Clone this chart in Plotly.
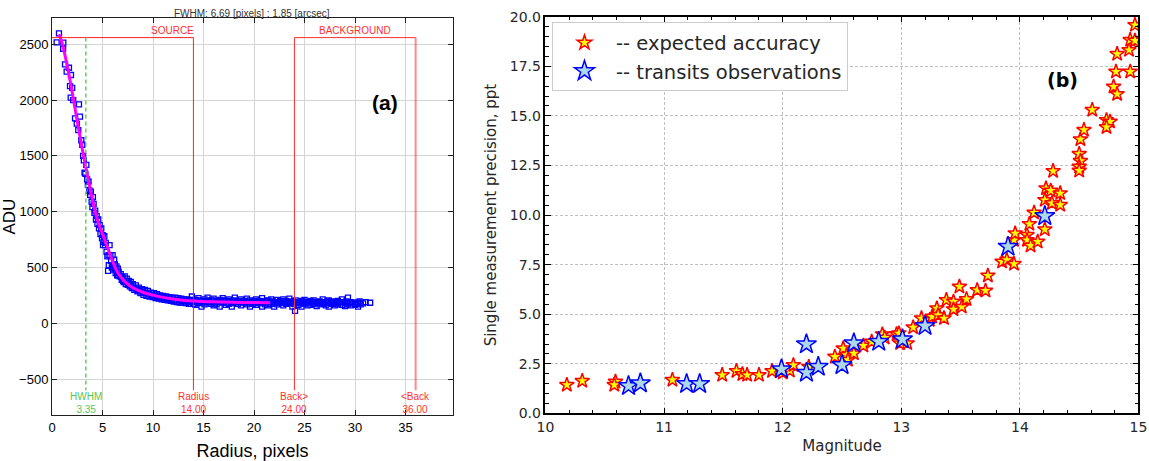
import plotly.graph_objects as go

# ---------------- Panel (a): radial profile ----------------
profile_points = [
    (0.46, 2518), (0.69, 2598), (1.10, 2460), (1.12, 2515), (1.29, 2320), (1.45, 2255),
    (1.68, 2290), (1.78, 2126), (1.85, 2022), (1.88, 2225), (2.00, 2110), (2.10, 2000),
    (2.28, 1837), (2.45, 1790), (2.60, 1730), (2.67, 1962), (2.77, 1851), (2.90, 1640),
    (3.00, 1600), (3.08, 1500), (3.15, 1460), (3.22, 1350), (3.30, 1340), (3.40, 1420),
    (3.48, 1290), (3.55, 1240), (3.62, 1270), (3.70, 1190), (3.78, 1150), (3.85, 1180),
    (3.92, 1090), (4.00, 1040), (4.05, 1130), (4.12, 1070), (4.20, 990), (4.28, 1010),
    (4.35, 930), (4.42, 960), (4.50, 890), (4.58, 930), (4.65, 850), (4.72, 880),
    (4.80, 800), (4.88, 850), (4.95, 760), (5.02, 790), (5.10, 730), (5.18, 780),
    (5.25, 700), (5.32, 720), (5.40, 640), (5.48, 600), (5.55, 470), (5.62, 520),
    (5.70, 700), (5.78, 610), (5.85, 560), (5.92, 500), (6.00, 610), (6.08, 480),
    (6.15, 570), (6.22, 530), (6.30, 450), (6.38, 510), (6.45, 430), (6.52, 490),
    (6.60, 460), (6.70, 420), (6.80, 440), (6.90, 390), (7.00, 410), (7.10, 370),
    (7.20, 420), (7.30, 350), (7.40, 400), (7.50, 345), (7.60, 380), (7.70, 330),
    (7.80, 370), (7.90, 315), (8.00, 350), (8.15, 300), (8.30, 340), (8.45, 285),
    (8.60, 320), (8.75, 270), (8.90, 305), (9.05, 255), (9.20, 300), (9.35, 245),
    (9.50, 290), (9.65, 240), (9.80, 275), (9.95, 235), (10.10, 270), (10.25, 225),
    (10.40, 260), (10.55, 220), (10.70, 250), (10.85, 215), (11.00, 245), (11.15, 210),
    (11.30, 240), (11.45, 205), (11.60, 235), (11.75, 200), (11.90, 230), (12.05, 195),
    (12.20, 230), (12.35, 190), (12.50, 225), (12.65, 185), (12.80, 220), (12.95, 185),
    (13.10, 215), (13.25, 180), (13.40, 215), (13.55, 175), (13.70, 210), (13.85, 240),
    (14.00, 175), (14.20, 210), (14.20, 165), (14.50, 225), (14.50, 180), (14.80, 200),
    (14.80, 150), (15.10, 215), (15.10, 170), (15.40, 190), (15.40, 230), (15.70, 175),
    (15.70, 205), (16.00, 220), (16.00, 160), (16.30, 195), (16.30, 170), (16.60, 210),
    (16.60, 150), (16.90, 185), (16.90, 225), (17.20, 200), (17.20, 165), (17.50, 215),
    (17.50, 175), (17.80, 190), (17.80, 150), (18.10, 205), (18.10, 230), (18.40, 175),
    (18.40, 195), (18.70, 215), (18.70, 160), (19.00, 185), (19.00, 200), (19.30, 170),
    (19.30, 220), (19.60, 205), (19.60, 150), (19.90, 190), (19.90, 175), (20.20, 215),
    (20.20, 165), (20.50, 180), (20.50, 200), (20.80, 225), (20.80, 150), (21.10, 195),
    (21.10, 170), (21.40, 205), (21.40, 160), (21.70, 175), (21.70, 215), (22.00, 190),
    (22.00, 150), (22.30, 210), (22.30, 170), (22.60, 185), (22.60, 200), (22.90, 160),
    (22.90, 215), (23.20, 200), (23.20, 175), (23.50, 180), (23.50, 220), (23.80, 150),
    (23.80, 195), (24.06, 112), (24.10, 205), (24.40, 185), (24.40, 165), (24.70, 200),
    (24.70, 150), (25.00, 175), (25.00, 210), (25.30, 190), (25.30, 160), (25.60, 165),
    (25.60, 200), (25.90, 205), (25.90, 175), (26.20, 155), (26.20, 190), (26.50, 195),
    (26.50, 170), (26.80, 180), (26.80, 215), (27.10, 160), (27.10, 190), (27.40, 205),
    (27.40, 150), (27.70, 175), (27.70, 195), (28.00, 190), (28.00, 160), (28.30, 170),
    (28.30, 200), (28.70, 214), (28.70, 165), (29.00, 180), (29.00, 155), (29.30, 229),
    (29.30, 170), (29.60, 160), (29.60, 190), (30.00, 185), (30.00, 165), (30.30, 184),
    (30.30, 150), (30.80, 178), (31.50, 184),
    # extra points filling the dense band
    (5.05, 700), (5.60, 610), (6.05, 520), (6.55, 430), (7.05, 380), (7.55, 360),
    (8.05, 320), (8.55, 295), (9.10, 275), (9.60, 265), (10.05, 245), (10.60, 235),
    (11.05, 225), (11.55, 215), (12.10, 210), (12.60, 205), (13.05, 200), (13.60, 195),
    (14.35, 195), (14.95, 185), (15.55, 190), (16.15, 185), (16.75, 190), (17.35, 185),
    (17.95, 180), (18.55, 190), (19.15, 185), (19.75, 185), (20.35, 190), (20.95, 180),
    (21.55, 190), (22.15, 185), (22.75, 180), (23.35, 190), (23.95, 175), (24.55, 180),
    (25.15, 185), (25.75, 185), (26.35, 180), (26.95, 175), (27.55, 185), (28.15, 180),
    (28.85, 190), (29.45, 180), (30.15, 175), (30.55, 170), (31.05, 190),
    (6.25, 490), (6.85, 415), (7.35, 375), (7.85, 340), (8.35, 310), (8.85, 285),
    (9.35, 270), (9.85, 255), (10.35, 240), (10.85, 232), (11.35, 222), (11.85, 212),
    (12.35, 208), (12.85, 200), (13.35, 196), (13.85, 192), (14.10, 200), (14.65, 205),
    (15.25, 200), (15.85, 205), (16.45, 200), (17.05, 205), (17.65, 200), (18.25, 195),
    (18.85, 200), (19.45, 195), (20.05, 200), (20.65, 195), (21.25, 200), (21.85, 195),
    (22.45, 192), (23.05, 195), (23.65, 188), (24.25, 190), (24.85, 195), (25.45, 190),
    (26.05, 192), (26.65, 188), (27.25, 195), (27.85, 185), (28.45, 190), (29.15, 195),
    (29.75, 180), (30.45, 195),
]
radius = [p[0] for p in profile_points]
adu = [p[1] for p in profile_points]

fit_radius = [0.7, 1.0, 1.5, 2.0, 2.5, 3.0, 3.5, 4.0, 4.5, 5.0, 5.5, 6.0, 6.5, 7.0,
              7.5, 8.0, 9.0, 10.0, 11.0, 12.0, 13.0, 14.0, 16.0, 18.0, 20.0, 21.6]
fit_adu = [2590, 2510, 2310, 2070, 1810, 1560, 1330, 1110, 925, 800, 680, 555, 455, 395,
           350, 318, 278, 252, 232, 218, 207, 200, 192, 188, 186, 184]

hwhm = 3.35
source_radius = 14.0
back_inner = 24.0
back_outer = 36.0
box_top = 2560
line_bottom = -600

# ---------------- Panel (b): precision vs magnitude ----------------
exp_mag = [10.18, 10.31, 10.59, 10.58, 11.07, 11.49, 11.61, 11.66, 11.70, 11.80, 11.91, 12.00,
           12.06, 12.09, 12.22, 12.44, 12.51, 12.54, 12.55, 12.60, 12.68, 12.75, 12.84, 12.86,
           12.96, 12.98, 12.99, 13.05, 13.10, 13.17, 13.24, 13.26, 13.30, 13.31, 13.36, 13.38,
           13.44, 13.44, 13.49, 13.51, 13.55, 13.64, 13.71, 13.73, 13.85, 13.89, 13.95, 13.95,
           13.96, 14.06, 14.06, 14.08, 14.09, 14.12, 14.15, 14.21, 14.21, 14.22, 14.26, 14.27,
           14.28, 14.34, 14.34, 14.50, 14.51, 14.50, 14.50, 14.51, 14.54, 14.61, 14.73, 14.76,
           14.73, 14.79, 14.81, 14.82, 14.82, 14.92, 14.93, 14.93, 14.97, 14.97]
exp_prec = [1.44, 1.64, 1.60, 1.44, 1.69, 1.94, 2.14, 1.98, 1.94, 1.94, 2.14, 2.06,
            2.16, 2.44, 2.35, 2.86, 3.28, 2.95, 2.70, 3.03, 3.42, 3.62, 3.99, 3.82,
            4.00, 4.04, 3.54, 3.54, 4.34, 4.80, 4.71, 4.88, 5.30, 4.96, 4.80, 5.72,
            5.64, 5.25, 6.39, 5.38, 5.76, 6.22, 6.19, 6.95, 7.65, 7.74, 7.54, 8.74,
            9.08, 9.00, 8.74, 9.55, 8.46, 10.12, 8.66, 9.28, 10.76, 11.35, 11.23, 10.60,
            12.22, 11.10, 10.51, 13.08, 12.73, 12.44, 12.24, 13.82, 14.29, 15.30, 14.79, 14.71,
            14.43, 16.47, 17.23, 16.10, 18.12, 18.32, 18.83, 17.23, 18.79, 19.58]

obs_mag = [10.70, 10.80, 11.19, 11.30, 11.99, 12.20, 12.20, 12.30, 12.50, 12.60, 12.81,
           13.01, 13.20, 13.90, 14.21]
obs_prec = [1.39, 1.52, 1.49, 1.49, 2.23, 3.49, 2.06, 2.36, 2.44, 3.54, 3.62,
            3.74, 4.41, 8.41, 9.95]

ARIAL = "Liberation Sans, Arial, sans-serif"
DEJAVU = "DejaVu Sans, sans-serif"

fig = go.Figure()

# Panel (a) traces
fig.add_trace(go.Scatter(
    x=radius, y=adu, mode="markers", xaxis="x", yaxis="y", showlegend=False,
    marker=dict(symbol="square-open", size=5, color="#0000ff", line=dict(width=1.3, color="#0000ff"))))
fig.add_trace(go.Scatter(
    x=fit_radius, y=fit_adu, mode="lines", xaxis="x", yaxis="y", showlegend=False,
    line=dict(color="#ff00ff", width=3, shape="spline")))
fig.add_trace(go.Scatter(
    x=[0, source_radius, source_radius], y=[box_top, box_top, line_bottom],
    mode="lines", xaxis="x", yaxis="y", showlegend=False,
    line=dict(color="#ff2020", width=1)))
fig.add_trace(go.Scatter(
    x=[back_inner, back_inner, back_outer], y=[line_bottom, box_top, box_top],
    mode="lines", xaxis="x", yaxis="y", showlegend=False,
    line=dict(color="#ff3030", width=1)))
fig.add_trace(go.Scatter(
    x=[back_outer, back_outer], y=[box_top, line_bottom],
    mode="lines", xaxis="x", yaxis="y", showlegend=False,
    line=dict(color="rgba(255,60,60,0.6)", width=2)))
fig.add_trace(go.Scatter(
    x=[hwhm, hwhm], y=[box_top, line_bottom],
    mode="lines", xaxis="x", yaxis="y", showlegend=False,
    line=dict(color="#44cc44", width=1.3, dash="4px,3px")))

# Panel (b) traces
fig.add_trace(go.Scatter(
    x=exp_mag, y=exp_prec, mode="markers", xaxis="x2", yaxis="y2",
    name="-- expected accuracy",
    marker=dict(symbol="star", size=11, color="#ffff00", line=dict(width=1.5, color="#ff0000"))))
fig.add_trace(go.Scatter(
    x=obs_mag, y=obs_prec, mode="markers", xaxis="x2", yaxis="y2",
    name="-- transits observations",
    marker=dict(symbol="star", size=15, color="#add8e6", line=dict(width=1.5, color="#0000ff"))))

axis_a = dict(showgrid=True, gridcolor="#d4d4d4", gridwidth=1, zeroline=False, automargin=False,
              showline=True, linecolor="#202020", linewidth=1, mirror="ticks",
              ticks="inside", ticklen=5, tickcolor="#202020",
              tickfont=dict(family=ARIAL, size=13, color="#000000"))
axis_b = dict(showgrid=True, gridcolor="#c0c0c0", gridwidth=1, griddash="3px,2px", zeroline=False,
              automargin=False,
              showline=True, linecolor="#000000", linewidth=1.5, mirror="ticks",
              ticks="inside", ticklen=6, tickwidth=1.2, tickcolor="#000000",
              tickfont=dict(family=DEJAVU, size=14, color="#262626"))

W, H = 1149, 461

fig.update_layout(
    template="none",
    width=W, height=H,
    margin=dict(l=0, r=0, t=0, b=0, autoexpand=False),
    paper_bgcolor="white", plot_bgcolor="white",
    xaxis=dict(axis_a, domain=[0.04526, 0.39426], range=[0, 39.7], tick0=0, dtick=5,
               anchor="y",
               title=dict(text="Radius, pixels", font=dict(family=ARIAL, size=18, color="#000"),
                          standoff=14)),
    yaxis=dict(axis_a, domain=[0.09978, 0.96030], range=[-822, 2733], tick0=0, dtick=500,
               anchor="x",
               title=dict(text="ADU", font=dict(family=ARIAL, size=17, color="#000"),
                          standoff=0)),
    xaxis2=dict(axis_b, domain=[0.47476, 0.99086], range=[10, 15], tick0=10, dtick=1,
                anchor="y2",
                minor=dict(ticks="inside", ticklen=3.5, dtick=0.2, tickcolor="#000000",
                           showgrid=False),
                title=dict(text="Magnitude", font=dict(family=DEJAVU, size=15, color="#262626"),
                           standoff=6)),
    yaxis2=dict(axis_b, domain=[0.10304, 0.96377], range=[0, 20], tick0=0, dtick=2.5,
                tickformat=".1f", anchor="x2",
                minor=dict(ticks="inside", ticklen=3.5, dtick=0.5, tickcolor="#000000",
                           showgrid=False),
                title=dict(text="Single measurement precision, ppt",
                           font=dict(family=DEJAVU, size=15, color="#262626"), standoff=10)),
    legend=dict(x=0.4804, y=0.9512, xanchor="left", yanchor="top",
                bgcolor="rgba(255,255,255,0.9)", bordercolor="#cccccc", borderwidth=1,
                font=dict(family=DEJAVU, size=19.5, color="#262626"),
                itemsizing="trace", itemwidth=53, tracegroupgap=2),
    annotations=[
        dict(text="FWHM: 6.69 [pixels] : 1.85 [arcsec]", xref="paper", yref="paper",
             x=0.2193, y=0.987, xanchor="center", yanchor="top", showarrow=False,
             font=dict(family=ARIAL, size=10, color="#333")),
        dict(text="SOURCE", xref="x", yref="y", x=11.9, y=2625, showarrow=False,
             font=dict(family=ARIAL, size=10, color="#ff3030")),
        dict(text="BACKGROUND", xref="x", yref="y", x=30.0, y=2625, showarrow=False,
             font=dict(family=ARIAL, size=10, color="#ff3030")),
        dict(text="HWHM<br>3.35", xref="x", yref="y", x=hwhm, y=-713, showarrow=False,
             font=dict(family=ARIAL, size=10, color="#55c855")),
        dict(text="Radius<br>14.00", xref="x", yref="y", x=source_radius, y=-713, showarrow=False,
             font=dict(family=ARIAL, size=10, color="#ff3030")),
        dict(text="Back><br>24.00", xref="x", yref="y", x=back_inner, y=-713, showarrow=False,
             font=dict(family=ARIAL, size=10, color="#ff3030")),
        dict(text="<Back<br>36.00", xref="x", yref="y", x=back_outer, y=-713, showarrow=False,
             font=dict(family=ARIAL, size=10, color="#ff3030")),
        dict(text="<b>(a)</b>", xref="paper", yref="paper", x=0.3351, y=0.7766,
             xanchor="center", yanchor="middle", showarrow=False,
             font=dict(family=ARIAL, size=21, color="#000")),
        dict(text="<b>(b)</b>", xref="paper", yref="paper", x=0.9243, y=0.8265,
             xanchor="center", yanchor="middle", showarrow=False,
             font=dict(family=DEJAVU, size=19, color="#000")),
    ],
)

# remove the default page margin so the figure fills the window exactly
fig.write_html("out.html",
               config={"displayModeBar": False},
               post_script="document.body.style.margin='0';document.body.style.overflow='hidden';")
